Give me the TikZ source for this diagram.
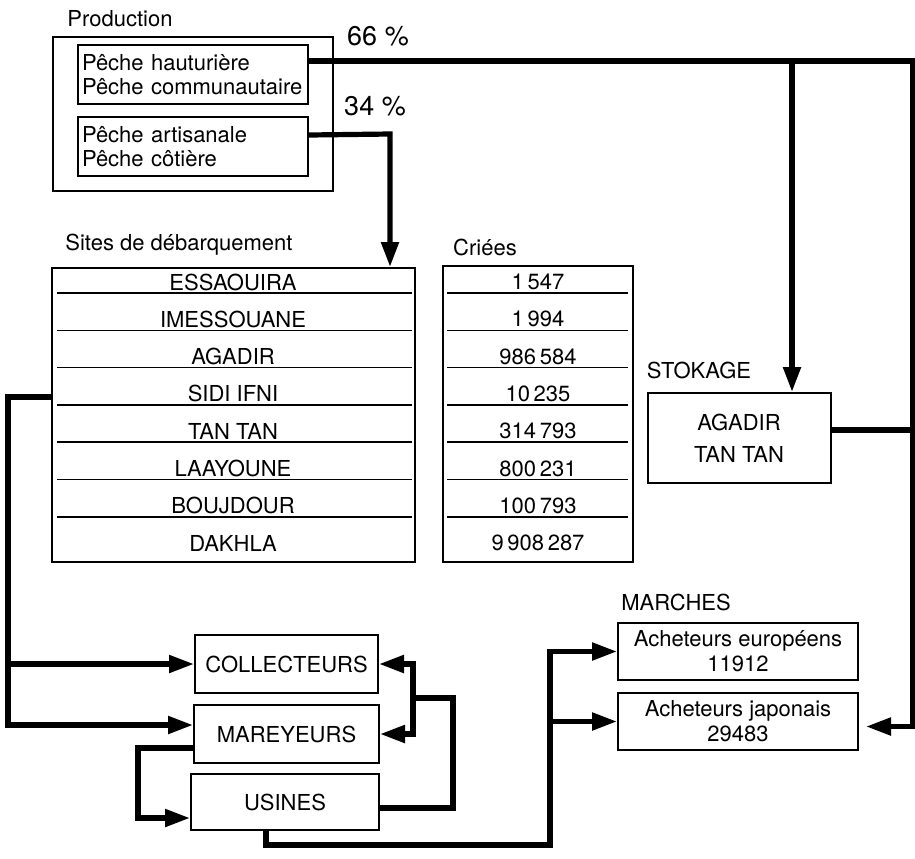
\documentclass[tikz,border=0pt]{standalone}
\usepackage{fontspec}
\setmainfont{TeX Gyre Heros}
\usetikzlibrary{arrows.meta,positioning,calc}

\begin{document}
\begin{tikzpicture}[
  x=0.5pt, y=-0.5pt,
  box/.style={rectangle, draw, line width=1pt, inner sep=0pt},
  title/.style={font=\fontsize{11}{13}\selectfont},
  row/.style={font=\fontsize{11}{13}\selectfont},
  pct/.style={font=\fontsize{13.5}{15}\selectfont},
  sep/.style={line width=0.8pt},
  arrow/.style={-{Triangle[length=12.5pt,width=8.5pt]}, line width=2.6pt},
  line/.style={line width=2.6pt}
]
\useasboundingbox (0,0) rectangle (915,858);

% Production
\node[title] (prodlab) at (120,19) {Production};
\node[box, minimum width=140pt, minimum height=77pt] (prod) at (193,114) {};
\node[box, minimum width=115pt, minimum height=29.5pt, inner xsep=2pt, text width=111pt,
  align=left, font=\fontsize{11}{12}\selectfont] (p1) at (193,74.5)
  {Pêche hauturière\\Pêche communautaire};
\node[box, minimum width=115pt, minimum height=29.5pt, inner xsep=2pt, text width=111pt,
  align=left, font=\fontsize{11}{12}\selectfont] (p2) at (193,146.5)
  {Pêche artisanale\\Pêche côtière};
\node[pct] (p66) at (378,36) {66 \%};
\node[pct] (p34) at (375,106) {34 \%};

% Sites de debarquement
\node[title] (siteslab) at (179,245) {Sites de débarquement};
\node[box, minimum width=181.5pt, minimum height=147pt] (sites) at (233.5,415) {};
\foreach \name [count=\i] in {ESSAOUIRA, IMESSOUANE, AGADIR, SIDI IFNI, TAN TAN, LAAYOUNE, BOUJDOUR, DAKHLA}
  \node[row] (site\i) at (233,{282+37.3*(\i-1)}) {\name};
\foreach \i in {1,...,7}
  \draw[sep] (57,{293+37.3*(\i-1)}) -- (412,{293+37.3*(\i-1)});

% Criees
\node[title] (crieeslab) at (485,247) {Criées};
\node[box, minimum width=95pt, minimum height=148pt] (criees) at (538,414) {};
\foreach \val [count=\i] in {1\,547, 1\,994, 986\,584, 10\,235, 314\,793, 800\,231, 100\,793, 9\,908\,287}
  \node[row] (criee\i) at (538,{282+37.3*(\i-1)}) {\val};
\foreach \i in {1,...,7}
  \draw[sep] (447,{293+37.3*(\i-1)}) -- (628,{293+37.3*(\i-1)});

% Stokage
\node[title] (stoklab) at (699,370) {STOKAGE};
\node[box, minimum width=91.5pt, minimum height=45pt, align=center,
  font=\fontsize{11}{16}\selectfont] (stok) at (739,438) {AGADIR\\TAN TAN};

% Intermediaires
\node[box, minimum width=91.5pt, minimum height=29pt, font=\fontsize{11}{13}\selectfont] (coll) at (286.5,664) {COLLECTEURS};
\node[box, minimum width=92.5pt, minimum height=29pt, font=\fontsize{11}{13}\selectfont] (mar) at (286.5,734) {MAREYEURS};
\node[box, minimum width=94pt, minimum height=28pt, font=\fontsize{11}{13}\selectfont] (usi) at (285,802) {USINES};

% Marches
\node[title] (marlab) at (676,602) {MARCHES};
\node[box, minimum width=120pt, minimum height=28.5pt, align=center,
  font=\fontsize{11}{12.5}\selectfont] (eur) at (738,651.5) {Acheteurs européens\\11912};
\node[box, minimum width=120pt, minimum height=28.5pt, align=center,
  font=\fontsize{11}{12.5}\selectfont] (jap) at (738,721.5) {Acheteurs japonais\\29483};

% Bends
\coordinate (rx) at (913,61);
\coordinate (bx) at (792,61);
\coordinate (dx) at (390,134);
\coordinate (lx) at (8,397);
\coordinate (ux) at (453,698);
\coordinate (vx) at (413,698);
\coordinate (wx) at (550,845);

% 66 %
\draw[arrow] ([yshift=6.75pt]p1.east) -- (rx) |- ([xshift=3.5pt,yshift=-2.5pt]jap.east);
\draw[arrow] (bx) -- (bx |- stok.north);
\draw[line] ([yshift=4pt]stok.east) -- ([yshift=4pt]stok.east -| rx);

% 34 %
\draw[arrow] ([yshift=5.75pt]p2.east) -- (dx) -- (dx |- sites.north);

% Sites -> collecteurs, mareyeurs
\draw[arrow] ([yshift=9pt]sites.west) -- (lx) |- ([yshift=4.5pt]mar.west);
\draw[arrow] (lx |- coll.west) -- (coll.west);

% Mareyeurs -> usines
\draw[arrow] ([yshift=-7pt]mar.west) -- ++(-55,0) |- ([yshift=-8pt]usi.west);

% Usines -> collecteurs, mareyeurs
\draw[line] ([yshift=-3pt]usi.east) -| (ux) -- (vx);
\draw[arrow] (vx) |- (coll.east);
\draw[arrow] (vx) |- (mar.east);

% Usines -> marches
\draw[arrow] ([xshift=-9.5pt]usi.south) |- (wx) |- (eur.west);
\draw[arrow] (wx |- jap.west) -- (jap.west);

\end{tikzpicture}
\end{document}
